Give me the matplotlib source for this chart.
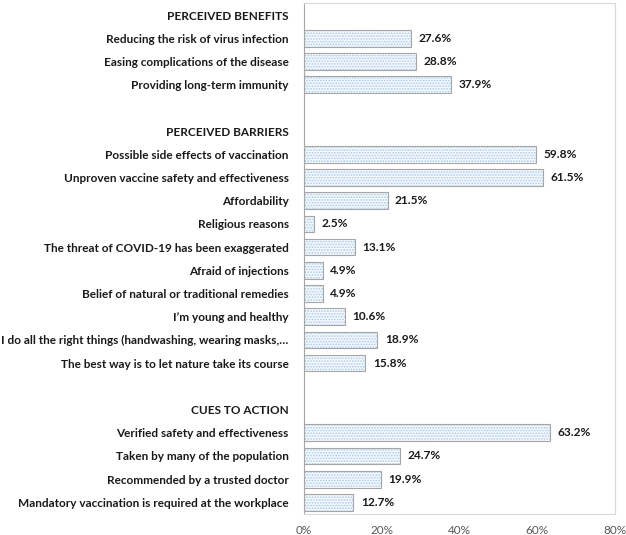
import matplotlib
matplotlib.use("Agg")
import matplotlib.pyplot as plt
import numpy as np

categories = [
    "PERCEIVED BENEFITS",
    "Reducing the risk of virus infection",
    "Easing complications of the disease",
    "Providing long-term immunity",
    "",
    "PERCEIVED BARRIERS",
    "Possible side effects of vaccination",
    "Unproven vaccine safety and effectiveness",
    "Affordability",
    "Religious reasons",
    "The threat of COVID-19 has been exaggerated",
    "Afraid of injections",
    "Belief of natural or traditional remedies",
    "I\u2019m young and healthy",
    "I do all the right things (handwashing, wearing masks,\u2026",
    "The best way is to let nature take its course",
    "",
    "CUES TO ACTION",
    "Verified safety and effectiveness",
    "Taken by many of the population",
    "Recommended by a trusted doctor",
    "Mandatory vaccination is required at the workplace",
]
values = [None, 27.6, 28.8, 37.9, None, None, 59.8, 61.5, 21.5, 2.5, 13.1,
          4.9, 4.9, 10.6, 18.9, 15.8, None, None, 63.2, 24.7, 19.9, 12.7]
xticks = [0, 20, 40, 60, 80]
xticklabels = ["0%", "20%", "40%", "60%", "80%"]

plt.rcParams['font.family'] = ['Lato', 'DejaVu Sans']
plt.rcParams['hatch.linewidth'] = 0.8

fig = plt.figure(figsize=(6.26, 5.35), dpi=100)
ax = fig.add_axes([0.4856, 0.0393, 0.4968, 0.9543])

y = np.arange(len(categories))
vals = np.array([v if v is not None else 0 for v in values], dtype=float)
mask = np.array([v is not None for v in values])

ax.barh(y[mask], vals[mask], height=0.72, color='#f4f8fc',
        hatch='......', edgecolor='#a8cbea', linewidth=0)
ax.barh(y[mask], vals[mask], height=0.72, fill=False,
        edgecolor='#a6a6a6', linewidth=0.8)

for yi, v in zip(y[mask], vals[mask]):
    ax.text(v + 1.9, yi, f"{v:.1f}%", va='center', ha='left',
            fontsize=8.6, fontweight='bold', color='#1a1a1a')

ax.set_ylim(len(categories) - 0.5, -0.5)
ax.set_xlim(0, 80)
ax.set_yticks(y)
ax.set_yticklabels(categories, fontsize=8.5, fontweight='bold', color='#1a1a1a')
ax.set_xticks(xticks)
ax.set_xticklabels(xticklabels, fontsize=8.5, color='#595959')
ax.tick_params(axis='both', length=0)
ax.tick_params(axis='y', pad=11)
ax.tick_params(axis='x', pad=8)
for s in ax.spines.values():
    s.set_color('#d9d9d9')
    s.set_linewidth(0.8)
ax.spines['left'].set_color('#a6a6a6')

fig.savefig("out.png", dpi=100)
